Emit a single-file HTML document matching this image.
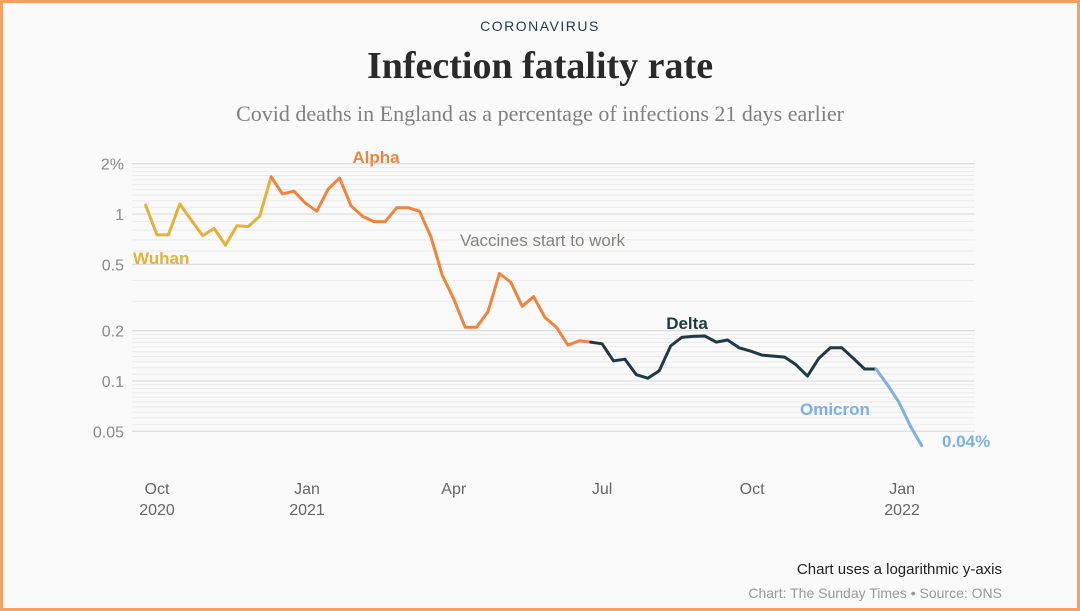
<!DOCTYPE html>
<html><head><meta charset="utf-8">
<style>
html,body{margin:0;padding:0;}
body{width:1080px;height:611px;overflow:hidden;background:#fafafa;}
#frame{position:absolute;left:0;top:0;width:1074px;height:605px;border:3px solid #f5a064;background:#fafafa;}
.t{position:absolute;left:0;width:1080px;text-align:center;}
</style></head>
<body>
<div id="frame"></div>
<div class="t" style="top:18px;font:14px 'Liberation Sans',sans-serif;letter-spacing:1.5px;color:#1f3a5a;">CORONAVIRUS</div>
<div class="t" style="top:44px;font:bold 38px 'Liberation Serif',serif;color:#2a2a2a;">Infection fatality rate</div>
<div class="t" style="top:101px;font:22px 'Liberation Serif',serif;color:#808080;">Covid deaths in England as a percentage of infections 21 days earlier</div>
<svg id="chart" width="1080" height="611" style="position:absolute;left:0;top:0"></svg>
<div style="position:absolute;right:78px;top:561px;font:15px 'Liberation Sans',sans-serif;color:#222;">Chart uses a logarithmic y-axis</div>
<div style="position:absolute;right:78px;top:585px;font:14px 'Liberation Sans',sans-serif;color:#999;">Chart: The Sunday Times • Source: ONS</div>
<script>
const values = [1.13,0.75,0.75,1.15,0.92,0.74,0.82,0.65,0.85,0.84,0.97,1.67,
1.32,1.37,1.16,1.04,1.41,1.64,1.12,0.97,0.90,0.90,1.09,1.09,1.04,0.73,0.43,0.31,0.21,0.21,0.26,0.44,0.39,0.28,0.32,0.24,0.21,0.164,0.174,0.171,
0.167,0.132,0.135,0.109,0.104,0.115,0.162,0.183,0.185,0.186,0.171,0.176,0.158,0.151,0.143,0.141,0.139,0.125,0.107,0.137,0.158,0.158,0.137,0.118,0.118,
0.095,0.075,0.054,0.041];
const startDay = -7;
const stepDays = 7;
const segNames = ["Wuhan","Alpha","Delta","Omicron"];
const segStart = [0,11,39,64];
const segEnd = [11,39,64,68];
const segColors = ["#e2b23a","#f0843c","#1e3a48","#7db1e2"];
const yTicks = [2,1,0.5,0.2,0.1,0.05];
const yTickLabels = ["2%","1","0.5","0.2","0.1","0.05"];
const xTickDays = [0,92,182,273,365,457];
const xTickLabels = ["Oct","Jan","Apr","Jul","Oct","Jan"];
const xTickYears = ["2020","2021","","","","2022"];

const svg = document.getElementById('chart');
const NS = 'http://www.w3.org/2000/svg';
const x = d => 157 + d * 1.6304;
const y = v => 214 - Math.log10(v) * 167;
function mk(tag, attrs){const e=document.createElementNS(NS,tag);for(const k in attrs)e.setAttribute(k,attrs[k]);svg.appendChild(e);return e;}

const minors=[];
for(let v=0.05;v<0.1-1e-9;v+=0.005)minors.push(v);
for(let v=0.1;v<0.2-1e-9;v+=0.01)minors.push(v);
for(let v=0.2;v<1-1e-9;v+=0.1)minors.push(v);
for(let v=1;v<=2+1e-9;v+=0.1)minors.push(v);
minors.forEach(v=>{
  const l=mk('line',{x1:132,x2:975,y1:y(v),y2:y(v),stroke:'#ebebeb','stroke-width':1});
  
  
});
yTicks.forEach((v,i)=>{
  const l=mk('line',{x1:132,x2:975,y1:y(v),y2:y(v),stroke:'#d8d8d8','stroke-width':1});
  
  
  const t=mk('text',{x:124,y:y(v)+6,'text-anchor':'end','font-family':'Liberation Sans, sans-serif','font-size':16,fill:'#8a8a8a'});
  t.textContent=yTickLabels[i];
  
  
});
xTickDays.forEach((d,i)=>{
  const t=mk('text',{x:x(d),y:494,'text-anchor':'middle','font-family':'Liberation Sans, sans-serif','font-size':16,fill:'#666'});
  t.textContent=xTickLabels[i];
  
  
  if(xTickYears[i]){
    const t2=mk('text',{x:x(d),y:515,'text-anchor':'middle','font-family':'Liberation Sans, sans-serif','font-size':16,fill:'#666'});
    t2.textContent=xTickYears[i];
    
    
  }
});
segNames.forEach((n,s)=>{
  let pts=[];
  for(let i=segStart[s];i<=segEnd[s];i++)pts.push(x(startDay+i*stepDays).toFixed(1)+','+y(values[i]).toFixed(1));
  const p=mk('polyline',{points:pts.join(' '),fill:'none',stroke:segColors[s],'stroke-width':3,'stroke-linejoin':'round','stroke-linecap':'round'});
  
  
});
function lab(txt,xx,yy,col,name,w,anchor){
  const t=mk('text',{x:xx,y:yy,'font-family':'Liberation Sans, sans-serif','font-size':17,'font-weight':w,fill:col,'text-anchor':anchor||'start'});
  t.textContent=txt;
  
  
}
lab('Wuhan',133,264,'#e2b23a','label-wuhan','bold');
lab('Alpha',376,163,'#f0843c','label-alpha','bold','middle');
lab('Vaccines start to work',460,246,'#8a7f7f','label-vaccines','normal');
lab('Delta',687,329,'#1e3a48','label-delta','bold','middle');
lab('Omicron',800,415,'#7db1e2','label-omicron','bold');
lab('0.04%',942,447,'#7db1e2','label-latest-value','bold');
</script>
</body></html>
